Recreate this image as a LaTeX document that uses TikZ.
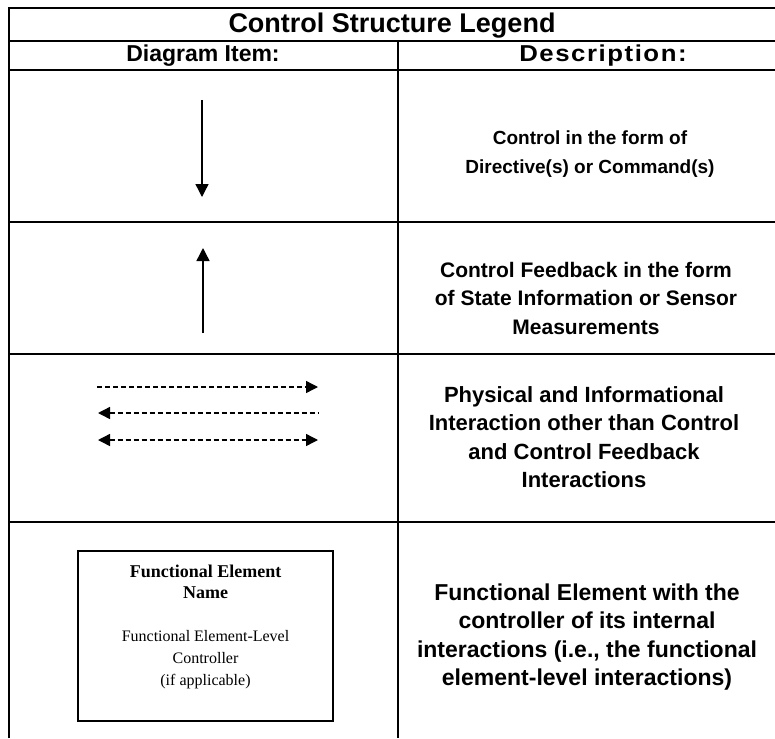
\documentclass[tikz,border=0pt]{standalone}
\usepackage{fontspec}
\setmainfont{Liberation Sans}
\newfontfamily\boxserif{Liberation Serif}
\usetikzlibrary{arrows.meta}

\begin{document}
\begin{tikzpicture}[x=1pt,y=-1pt,
  rule/.style={line width=1.7pt,black},
  thinrule/.style={line width=1.3pt,black},
  ctrl/.style={line width=1.4pt,-{Triangle[length=13pt,width=13pt]}},
  flow/.style={line width=1.4pt,dash pattern=on 5pt off 3pt},
  flowtip/.tip={Triangle[length=12pt,width=12pt]},
  title/.style={font=\bfseries\fontsize{27}{30}\selectfont,inner sep=0pt},
  head/.style={font=\bfseries\fontsize{23}{26}\selectfont,inner sep=0pt},
  desc/.style={font=\bfseries\fontsize{#1}{28.5}\selectfont,align=center,inner sep=0pt},
  elembox/.style={draw,line width=2pt,minimum width=255pt,minimum height=170pt,inner sep=0pt},
  elemname/.style={font=\boxserif\bfseries\fontsize{18}{21}\selectfont,align=center,inner sep=0pt},
  elemctl/.style={font=\boxserif\fontsize{16}{22}\selectfont,align=center,inner sep=0pt}
]
\useasboundingbox (0,0) rectangle (775,738);

% table frame and rules
\draw[rule] (9,738) -- (9,8) -- (775,8);
\draw[rule] (9,41) -- (775,41);
\draw[rule] (9,70) -- (775,70);
\draw[rule] (9,222) -- (775,222);
\draw[rule] (9,354) -- (775,354);
\draw[rule] (9,522) -- (775,522);
\draw[thinrule] (398,41) -- (398,738);

% headings
\node[title] (ttl) at (392,26) {Control Structure Legend};
\node[head] (hitem) at (203,56) {Diagram Item:};
\node[head] (hdesc) at (603,56) {\scalebox{1.12}[1]{\addfontfeature{LetterSpace=6}Description:}};

% row 1: command arrow
\coordinate (cmdA) at (202,100);
\coordinate (cmdB) at (202,197);
\draw[ctrl] (cmdA) -- (cmdB);
\node[desc=19] (d1) at (590,154) {Control in the form of\\Directive(s) or Command(s)};

% row 2: feedback arrow
\coordinate (fbA) at (203,333);
\coordinate (fbB) at (203,248);
\draw[ctrl] (fbA) -- (fbB);
\node[desc=21] (d2) at (586,298) {Control Feedback in the form\\of State Information or Sensor\\Measurements};

% row 3: other interactions
\coordinate (p1L) at (97,387);  \coordinate (p1R) at (318,387);
\coordinate (p2L) at (98,413);  \coordinate (p2R) at (318,413);
\coordinate (p3L) at (98,440);  \coordinate (p3R) at (318,440);
\draw[flow,-flowtip] (p1L) -- (p1R);
\draw[flow,flowtip-] (p2L) -- (p2R);
\draw[flow,flowtip-flowtip] (p3L) -- (p3R);
\node[desc=22] (d3) at (584,437) {Physical and Informational\\Interaction other than Control\\and Control Feedback\\Interactions};

% row 4: functional element
\node[elembox] (elem) at (205.5,636) {};
\node[elemname] (ename) at (205.5,582) {Functional Element\\Name};
\node[elemctl] (ectl) at (205.5,660) {Functional Element-Level\\Controller\\(if applicable)};
\node[desc=23] (d4) at (587,637) {Functional Element with the\\controller of its internal\\interactions (i.e., the functional\\element-level interactions)};
\end{tikzpicture}
\end{document}
